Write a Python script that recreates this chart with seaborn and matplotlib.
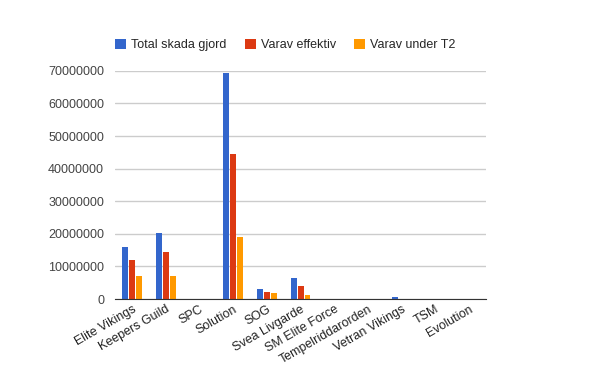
import pandas as pd
import matplotlib.pyplot as plt
import seaborn as sns

guilds = [
    "Elite Vikings", "Keepers Guild", "SPC", "Solution", "SOG",
    "Svea Livgarde", "SM Elite Force", "Tempelriddarorden",
    "Vetran Vikings", "TSM", "Evolution",
]
total = [16000000, 20300000, 0, 69300000, 3100000, 6500000, 0, 0, 650000, 0, 80000]
effektiv = [12000000, 14500000, 0, 44500000, 2300000, 4000000, 0, 0, 150000, 0, 0]
under_t2 = [7000000, 7000000, 0, 19000000, 1900000, 1200000, 0, 0, 0, 0, 0]

series = ["Total skada gjord", "Varav effektiv", "Varav under T2"]
colors = ["#3366cc", "#dc3912", "#ff9900"]

df = pd.DataFrame({"guild": guilds, series[0]: total, series[1]: effektiv, series[2]: under_t2})
df = df.melt(id_vars="guild", var_name="serie", value_name="skada")

sns.set_style("white")
plt.rcParams["font.family"] = ["Liberation Sans", "DejaVu Sans"]

fig = plt.figure(figsize=(6, 3.71), dpi=100)
ax = fig.add_axes([0.192, 0.194, 0.618, 0.615])

sns.barplot(
    data=df, x="guild", y="skada", hue="serie",
    palette=colors, saturation=1, width=0.61, gap=0.14,
    linewidth=0, ax=ax, zorder=3
)

ax.set_ylim(0, 70000000)
ax.set_yticks(range(0, 70000001, 10000000))
ax.set_yticklabels([str(v) for v in range(0, 70000001, 10000000)], fontsize=9, color="#444444")
ax.yaxis.grid(True, color="#cccccc", linewidth=1, zorder=0)
ax.set_xlim(-0.5, len(guilds) - 0.5)
ax.tick_params(axis="x", labelsize=9, labelcolor="#222222", length=0, pad=3)
ax.tick_params(axis="y", length=0, pad=8)
plt.setp(ax.get_xticklabels(), rotation=30, ha="right", rotation_mode="anchor")
ax.set_xlabel("")
ax.set_ylabel("")
for side in ["top", "right", "left"]:
    ax.spines[side].set_visible(False)
ax.spines["bottom"].set_color("#333333")
ax.spines["bottom"].set_zorder(4)

ax.legend(
    loc="center left", bbox_to_anchor=(0.0, 1.114), ncol=3, frameon=False,
    fontsize=9, handlelength=0.85, handleheight=0.85, columnspacing=1.5,
    handletextpad=0.4, borderaxespad=0, borderpad=0
)

fig.savefig("out.png", dpi=100)
